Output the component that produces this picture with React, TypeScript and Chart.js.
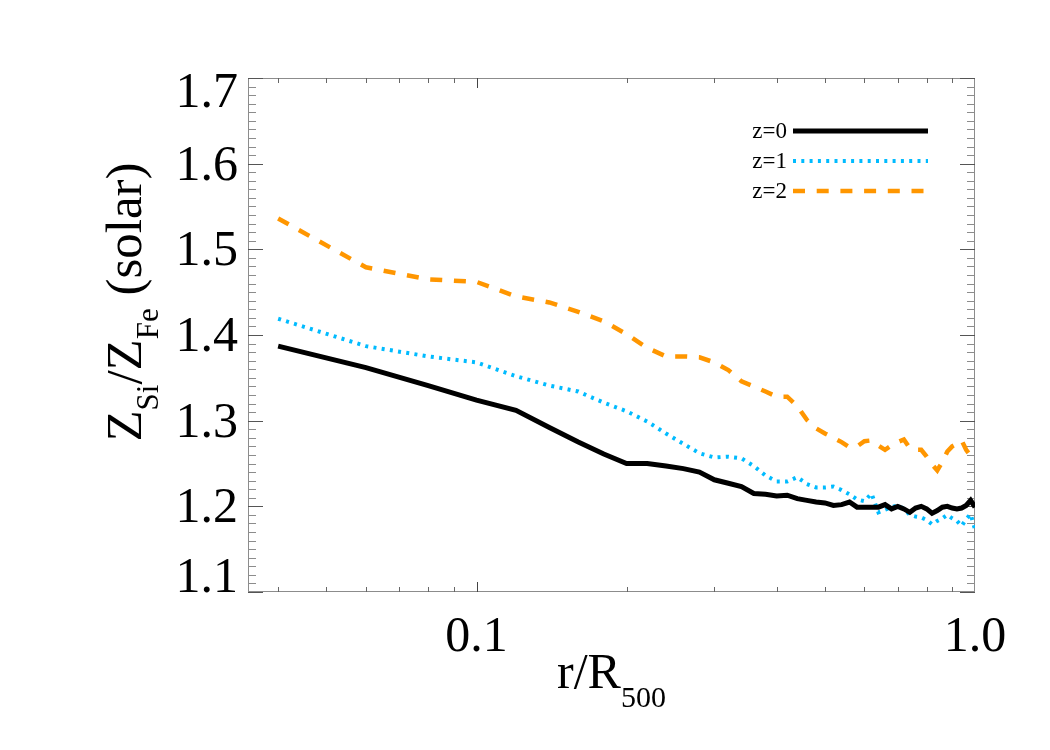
import { useEffect, useRef } from 'react';
import { Chart, registerables } from 'chart.js';

Chart.register(...registerables);

// Radial bins, r / R500
const radius = [
  0.04, 0.06, 0.08, 0.10, 0.12, 0.14, 0.16, 0.18, 0.20, 0.22,
  0.24, 0.26, 0.28, 0.30, 0.32, 0.34, 0.36, 0.38, 0.40, 0.42,
  0.44, 0.46, 0.48, 0.50, 0.52, 0.54, 0.56, 0.58, 0.60, 0.62,
  0.64, 0.66, 0.68, 0.70, 0.72, 0.74, 0.76, 0.78, 0.80, 0.82,
  0.84, 0.86, 0.88, 0.90, 0.92, 0.94, 0.96, 0.98, 1.00,
];

// Z_Si / Z_Fe (solar) profiles at three redshifts
const ratioZ0 = [
  1.387, 1.362, 1.341, 1.324, 1.312, 1.292, 1.275, 1.261, 1.250, 1.250,
  1.247, 1.244, 1.240, 1.231, 1.227, 1.223, 1.215, 1.214, 1.212, 1.213,
  1.209, 1.207, 1.205, 1.204, 1.201, 1.202, 1.205, 1.199, 1.199, 1.199,
  1.199, 1.202, 1.197, 1.200, 1.197, 1.193, 1.198, 1.200, 1.197, 1.192,
  1.195, 1.199, 1.200, 1.198, 1.197, 1.198, 1.201, 1.207, 1.199,
];
const ratioZ1 = [
  1.419, 1.387, 1.375, 1.368, 1.352, 1.341, 1.334, 1.321, 1.311, 1.299,
  1.285, 1.273, 1.262, 1.257, 1.258, 1.256, 1.247, 1.236, 1.229, 1.229,
  1.234, 1.226, 1.222, 1.222, 1.223, 1.219, 1.214, 1.208, 1.206, 1.215,
  1.193, 1.196, 1.199, 1.201, 1.197, 1.190, 1.188, 1.187, 1.184, 1.179,
  1.183, 1.186, 1.190, 1.186, 1.183, 1.177, 1.185, 1.191, 1.173,
];
const ratioZ2 = [
  1.536, 1.479, 1.465, 1.462, 1.445, 1.438, 1.427, 1.416, 1.401, 1.385,
  1.375, 1.375, 1.374, 1.368, 1.359, 1.346, 1.340, 1.334, 1.328, 1.328,
  1.317, 1.301, 1.291, 1.285, 1.280, 1.275, 1.269, 1.270, 1.276, 1.277,
  1.271, 1.266, 1.271, 1.275, 1.278, 1.268, 1.266, 1.266, 1.258, 1.249,
  1.242, 1.252, 1.264, 1.270, 1.273, 1.277, 1.266, 1.259, 1.264,
];

const seriesLabels = ['z=0', 'z=1', 'z=2'];

// Axis ticks and labels
const yLabelValues = [1.1, 1.2, 1.3, 1.4, 1.5, 1.6, 1.7];
const xLabelValues = [0.1, 1.0];
const xLabelTexts = ['0.1', '1.0'];
const xMinorTicks = [0.04, 0.05, 0.06, 0.07, 0.08, 0.09, 0.2, 0.3, 0.4, 0.5, 0.6, 0.7, 0.8, 0.9];
const xMajorTicks = [0.1];

const SERIF = '"Liberation Serif", "Times New Roman", serif';

const toPoints = (ys: number[]) => radius.map((r, i) => ({ x: r, y: ys[i] }));

type Part = { text: string; sub?: boolean };

// Draws a run of text pieces, with subscripts, starting at (x0, base)
function drawRichText(
  ctx: CanvasRenderingContext2D,
  parts: Part[],
  x0: number,
  base: number,
  mainSize: number,
  subSize: number,
  subDrop: number,
) {
  let x = x0;
  for (const p of parts) {
    ctx.font = `${p.sub ? subSize : mainSize}px ${SERIF}`;
    ctx.fillText(p.text, x, p.sub ? base + subDrop : base);
    x += ctx.measureText(p.text).width;
  }
}

function richWidth(ctx: CanvasRenderingContext2D, parts: Part[], mainSize: number, subSize: number) {
  let w = 0;
  for (const p of parts) {
    ctx.font = `${p.sub ? subSize : mainSize}px ${SERIF}`;
    w += ctx.measureText(p.text).width;
  }
  return w;
}

const framePlugin = {
  id: 'idlFrame',
  beforeDatasetsDraw(chart: any) {
    const { ctx, chartArea, scales } = chart;
    const { left, right, top, bottom } = chartArea;
    const xs = scales.x;
    const ys = scales.y;
    ctx.save();
    ctx.lineWidth = 1;

    // Box
    ctx.strokeStyle = '#8c8c8c';
    ctx.strokeRect(Math.round(left) + 0.5, Math.round(top) + 0.5, Math.round(right - left) - 1, Math.round(bottom - top) - 1);

    // Y ticks every 0.01, major every 0.1, on both sides
    for (let k = 0; k <= 60; k++) {
      const v = 1.1 + k * 0.01;
      const py = Math.round(ys.getPixelForValue(v)) + 0.5;
      const major = k % 10 === 0;
      const len = major ? 15 : 8;
      ctx.strokeStyle = major ? '#555' : '#8c8c8c';
      ctx.beginPath();
      ctx.moveTo(left, py);
      ctx.lineTo(left + len, py);
      ctx.moveTo(right, py);
      ctx.lineTo(right - len, py);
      ctx.stroke();
    }

    // X ticks on bottom and top
    const drawX = (vals: number[], len: number, color: string) => {
      ctx.strokeStyle = color;
      for (const v of vals) {
        const px = Math.round(xs.getPixelForValue(v)) + 0.5;
        ctx.beginPath();
        ctx.moveTo(px, bottom);
        ctx.lineTo(px, bottom - len);
        ctx.moveTo(px, top);
        ctx.lineTo(px, top + len);
        ctx.stroke();
      }
    };
    drawX(xMinorTicks, 5, '#666');
    drawX(xMajorTicks, 10, '#444');
    ctx.restore();
  },
  afterDraw(chart: any) {
    const { ctx, chartArea, scales, data } = chart;
    const { left, right, top, bottom } = chartArea;
    const xs = scales.x;
    const ys = scales.y;
    ctx.save();
    ctx.fillStyle = '#000';

    // Y tick labels (edge labels kept inside the frame)
    ctx.font = `50px ${SERIF}`;
    ctx.textAlign = 'right';
    ctx.textBaseline = 'alphabetic';
    for (const v of yLabelValues) {
      let cy = ys.getPixelForValue(v);
      cy = Math.min(Math.max(cy, top + 13), bottom - 16);
      ctx.fillText(v.toFixed(1), left - 10, cy + 16);
    }

    // X tick labels
    ctx.textAlign = 'center';
    xLabelValues.forEach((v, i) => {
      ctx.fillText(xLabelTexts[i], xs.getPixelForValue(v), 651);
    });

    // X title: r/R_500
    ctx.textAlign = 'left';
    const xParts: Part[] = [{ text: 'r/R' }, { text: '500', sub: true }];
    const xw = richWidth(ctx, xParts, 50, 30);
    drawRichText(ctx, xParts, (left + right) / 2 - xw / 2, 688, 50, 30, 19);

    // Y title: Z_Si/Z_Fe (solar)
    const yParts: Part[] = [
      { text: 'Z' }, { text: 'Si', sub: true }, { text: '/Z' }, { text: 'Fe', sub: true }, { text: ' (solar)' },
    ];
    const yw = richWidth(ctx, yParts, 51, 31);
    ctx.translate(141, 302);
    ctx.rotate(-Math.PI / 2);
    drawRichText(ctx, yParts, -yw / 2, 0, 51, 31, 17);
    ctx.setTransform(1, 0, 0, 1, 0, 0);

    // Legend
    data.datasets.forEach((ds: any, i: number) => {
      const ly = 131 + i * 30;
      ctx.font = `23px ${SERIF}`;
      ctx.textAlign = 'right';
      ctx.fillStyle = '#000';
      ctx.fillText(ds.label, 787, ly + 7);
      ctx.beginPath();
      ctx.strokeStyle = ds.borderColor;
      ctx.lineWidth = ds.borderWidth;
      ctx.setLineDash(ds.borderDash || []);
      ctx.lineCap = 'butt';
      ctx.moveTo(793, ly);
      ctx.lineTo(928, ly);
      ctx.stroke();
    });
    ctx.restore();
  },
};

export default function App() {
  const canvasRef = useRef<HTMLCanvasElement | null>(null);

  useEffect(() => {
    const canvas = canvasRef.current;
    if (!canvas) return;
    const chart = new Chart(canvas, {
      type: 'line',
      data: {
        datasets: [
          {
            label: seriesLabels[0],
            data: toPoints(ratioZ0),
            borderColor: '#000000',
            borderWidth: 5,
            pointRadius: 0,
            tension: 0,
          },
          {
            label: seriesLabels[1],
            data: toPoints(ratioZ1),
            borderColor: 'rgb(0, 187, 255)',
            borderWidth: 4,
            borderDash: [3, 5.3],
            borderCapStyle: 'butt',
            pointRadius: 0,
            tension: 0,
          },
          {
            label: seriesLabels[2],
            data: toPoints(ratioZ2),
            borderColor: 'rgb(255, 150, 0)',
            borderWidth: 4.5,
            borderDash: [12, 11.7],
            borderCapStyle: 'butt',
            pointRadius: 0,
            tension: 0,
          },
        ],
      },
      options: {
        responsive: false,
        animation: false,
        events: [],
        layout: { padding: { left: 0, right: 75, top: 78, bottom: 0 } },
        plugins: { legend: { display: false }, tooltip: { enabled: false } },
        scales: {
          x: {
            type: 'logarithmic',
            min: 0.0348,
            max: 1.0,
            grid: { display: false },
            border: { display: false },
            ticks: { display: false },
            afterFit: (s: any) => { s.height = 158; },
          },
          y: {
            type: 'linear',
            min: 1.1,
            max: 1.7,
            grid: { display: false },
            border: { display: false },
            ticks: { display: false },
            afterFit: (s: any) => { s.width = 248; },
          },
        },
      },
      plugins: [framePlugin],
    });
    return () => chart.destroy();
  }, []);

  return (
    <div style={{ position: 'fixed', left: 0, top: 0, width: 1050, height: 750, background: '#fff' }}>
      <canvas ref={canvasRef} width={1050} height={750} />
    </div>
  );
}
